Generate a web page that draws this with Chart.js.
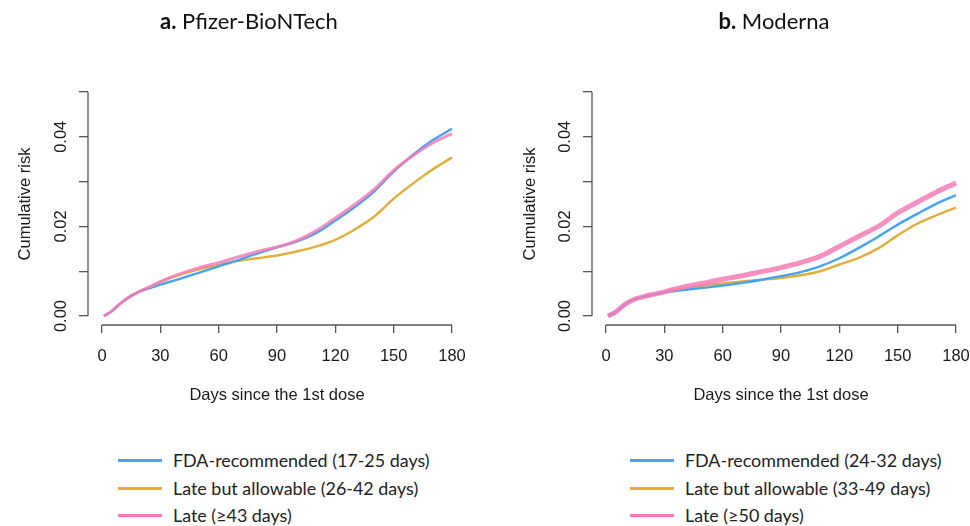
<!DOCTYPE html>
<html>
<head>
<meta charset="utf-8">
<script src="https://cdn.jsdelivr.net/npm/chart.js@4"></script>
<style>
  html, body { margin: 0; padding: 0; background: #fff; }
  #lienzo { position: relative; width: 970px; height: 526px; overflow: hidden; }
  canvas { position: absolute; top: 0; }
  .titulo { position: absolute; top: 7px; font-family: Lato, "Open Sans", sans-serif; font-size: 22px; color: #111; white-space: nowrap; transform: translateX(-50%); }
  .titulo b { font-weight: 700; }
  .leyenda { position: absolute; top: 448px; font-family: Lato, "Open Sans", sans-serif; font-size: 17.9px; color: #222; }
  .fila { position: relative; height: 27.5px; line-height: 24px; white-space: nowrap; padding-left: 55px; }
  .fila span.linea { position: absolute; left: 0; top: 11px; width: 44px; height: 3px; }
</style>
</head>
<body>
<div id="lienzo">
  <canvas id="chart1" width="490" height="430" style="left:0px"></canvas>
  <canvas id="chart2" width="505" height="430" style="left:485px"></canvas>
  <div class="titulo" style="left:249px"><b>a.</b> Pfizer-BioNTech</div>
  <div class="titulo" style="left:774px"><b>b.</b> Moderna</div>
  <div class="leyenda" id="leyenda1" style="left:118px"></div>
  <div class="leyenda" id="leyenda2" style="left:630px"></div>
</div>
<script>
// Days since the 1st dose (x values shared by every curve)
const dias = [1, 5, 10, 15, 20, 25, 30, 40, 50, 60, 70, 80, 90, 100, 110, 120, 130, 140, 150, 160, 170, 180];

// a. Pfizer-BioNTech cumulative risk
const pfizerRecomendado = [0, 0.0011, 0.0030, 0.0045, 0.0056, 0.0063, 0.0070, 0.0083, 0.0097, 0.0111, 0.0125, 0.0140, 0.0153, 0.0166, 0.0185, 0.0213, 0.0243, 0.0278, 0.0322, 0.0360, 0.0392, 0.0418];
const pfizerPermitido = [0, 0.0011, 0.0030, 0.0045, 0.0056, 0.0066, 0.0076, 0.0092, 0.0104, 0.0114, 0.0123, 0.0129, 0.0135, 0.0144, 0.0155, 0.0170, 0.0193, 0.0222, 0.0262, 0.0296, 0.0327, 0.0354];
const pfizerTardio = [0, 0.0011, 0.0030, 0.0045, 0.0056, 0.0066, 0.0077, 0.0094, 0.0108, 0.0119, 0.0132, 0.0144, 0.0154, 0.0168, 0.0190, 0.0219, 0.0249, 0.0283, 0.0325, 0.0358, 0.0386, 0.0407];

// b. Moderna cumulative risk
const modernaRecomendado = [0, 0.0009, 0.0027, 0.0038, 0.0044, 0.0048, 0.0053, 0.0058, 0.0063, 0.0068, 0.0074, 0.0081, 0.0089, 0.0098, 0.0111, 0.0129, 0.0152, 0.0177, 0.0204, 0.0228, 0.0251, 0.0270];
const modernaPermitido = [0, 0.0009, 0.0027, 0.0038, 0.0044, 0.0048, 0.0054, 0.0062, 0.0068, 0.0073, 0.0077, 0.0081, 0.0085, 0.0091, 0.0100, 0.0115, 0.0130, 0.0151, 0.0180, 0.0206, 0.0225, 0.0242];
const modernaTardio = [0, 0.0009, 0.0027, 0.0038, 0.0044, 0.0049, 0.0054, 0.0065, 0.0073, 0.0082, 0.0090, 0.0099, 0.0108, 0.0119, 0.0133, 0.0155, 0.0178, 0.0200, 0.0230, 0.0254, 0.0277, 0.0297];

// Axis ticks and labels
const ticksX = [0, 30, 60, 90, 120, 150, 180];
const ticksY = [0, 0.01, 0.02, 0.03, 0.04, 0.05];
const etiquetasY = ["0.00", "", "0.02", "", "0.04", ""];

// Legend texts
const leyendaPfizer = ["FDA-recommended (17-25 days)", "Late but allowable (26-42 days)", "Late (\u226543 days)"];
const leyendaModerna = ["FDA-recommended (24-32 days)", "Late but allowable (33-49 days)", "Late (\u226550 days)"];

const colores = ["#45a3f5", "#e0ae3a", "#f67bb6"];
const colorEje = "#555";

document.addEventListener("DOMContentLoaded", function () {
  generarPanel("chart1", [pfizerRecomendado, pfizerPermitido, pfizerTardio], 88, 24, 15.5, 3);
  generarPanel("chart2", [modernaRecomendado, modernaPermitido, modernaTardio], 107, 20, 35.5, 5);
  generarLeyenda("leyenda1", leyendaPfizer);
  generarLeyenda("leyenda2", leyendaModerna);
});

// Plugin that draws R-style axis lines (only between first and last tick)
const ejesR = {
  id: "ejesR",
  afterDraw(chart) {
    const { ctx, chartArea, scales } = chart;
    ctx.save();
    ctx.strokeStyle = colorEje;
    ctx.lineWidth = 1.3;
    ctx.beginPath();
    ctx.moveTo(chartArea.left, scales.y.getPixelForValue(ticksY[0]));
    ctx.lineTo(chartArea.left, scales.y.getPixelForValue(ticksY[ticksY.length - 1]));
    ctx.moveTo(scales.x.getPixelForValue(ticksX[0]), chartArea.bottom);
    ctx.lineTo(scales.x.getPixelForValue(ticksX[ticksX.length - 1]), chartArea.bottom);
    ctx.stroke();
    ctx.restore();
  },
};

function puntos(valores) {
  return dias.map((d, i) => ({ x: d, y: valores[i] }));
}

function generarPanel(id, series, anchoEjeY, margenDerecho, margenTituloY, grosorTardio) {
  const ctx = document.getElementById(id).getContext("2d");
  const fuente = { family: "'Liberation Sans', Arial, sans-serif", size: 16.5 };

  new Chart(ctx, {
    type: "line",
    data: {
      datasets: series.map((valores, i) => ({
        data: puntos(valores),
        borderColor: i === 2 ? "rgba(246,123,182,0.85)" : colores[i],
        borderWidth: i === 2 ? grosorTardio : 2.4,
        pointRadius: 0,
        cubicInterpolationMode: "monotone",
        fill: false,
        order: i === 2 ? 0 : i === 0 ? 1 : 2,
      })),
    },
    options: {
      responsive: false,
      animation: false,
      layout: { padding: { left: 0, top: 83, right: margenDerecho, bottom: 0 } },
      plugins: { legend: { display: false }, tooltip: { enabled: false } },
      scales: {
        x: {
          type: "linear",
          min: -7.2,
          max: 187.2,
          afterFit: (scale) => { scale.height = 105; },
          afterBuildTicks: (scale) => { scale.ticks = ticksX.map((v) => ({ value: v })); },
          border: { display: false },
          grid: { drawOnChartArea: false, drawTicks: true, tickLength: 8, color: colorEje, lineWidth: 1.3 },
          ticks: { autoSkip: false, maxRotation: 0, padding: 14, color: "#1a1a1a", font: fuente },
          title: { display: true, text: "Days since the 1st dose", color: "#1a1a1a", font: fuente, padding: { top: 0, bottom: 25 } },
        },
        y: {
          type: "linear",
          min: -0.002,
          max: 0.052,
          afterFit: (scale) => { scale.width = anchoEjeY; },
          afterBuildTicks: (scale) => { scale.ticks = ticksY.map((v) => ({ value: v })); },
          border: { display: false },
          grid: { drawOnChartArea: false, drawTicks: true, tickLength: 9, color: colorEje, lineWidth: 1.3 },
          ticks: {
            autoSkip: false,
            minRotation: 90,
            maxRotation: 90,
            crossAlign: "center",
            padding: 1,
            color: "#1a1a1a",
            font: fuente,
            callback: (valor, indice) => etiquetasY[indice],
          },
          title: { display: true, text: "Cumulative risk", color: "#1a1a1a", font: fuente, padding: { top: margenTituloY, bottom: 0 } },
        },
      },
    },
    plugins: [ejesR],
  });
}

function generarLeyenda(id, textos) {
  const caja = document.getElementById(id);
  textos.forEach((texto, i) => {
    const fila = document.createElement("div");
    fila.className = "fila";
    const linea = document.createElement("span");
    linea.className = "linea";
    linea.style.background = colores[i];
    fila.appendChild(linea);
    fila.appendChild(document.createTextNode(texto));
    caja.appendChild(fila);
  });
}
</script>
</body>
</html>
